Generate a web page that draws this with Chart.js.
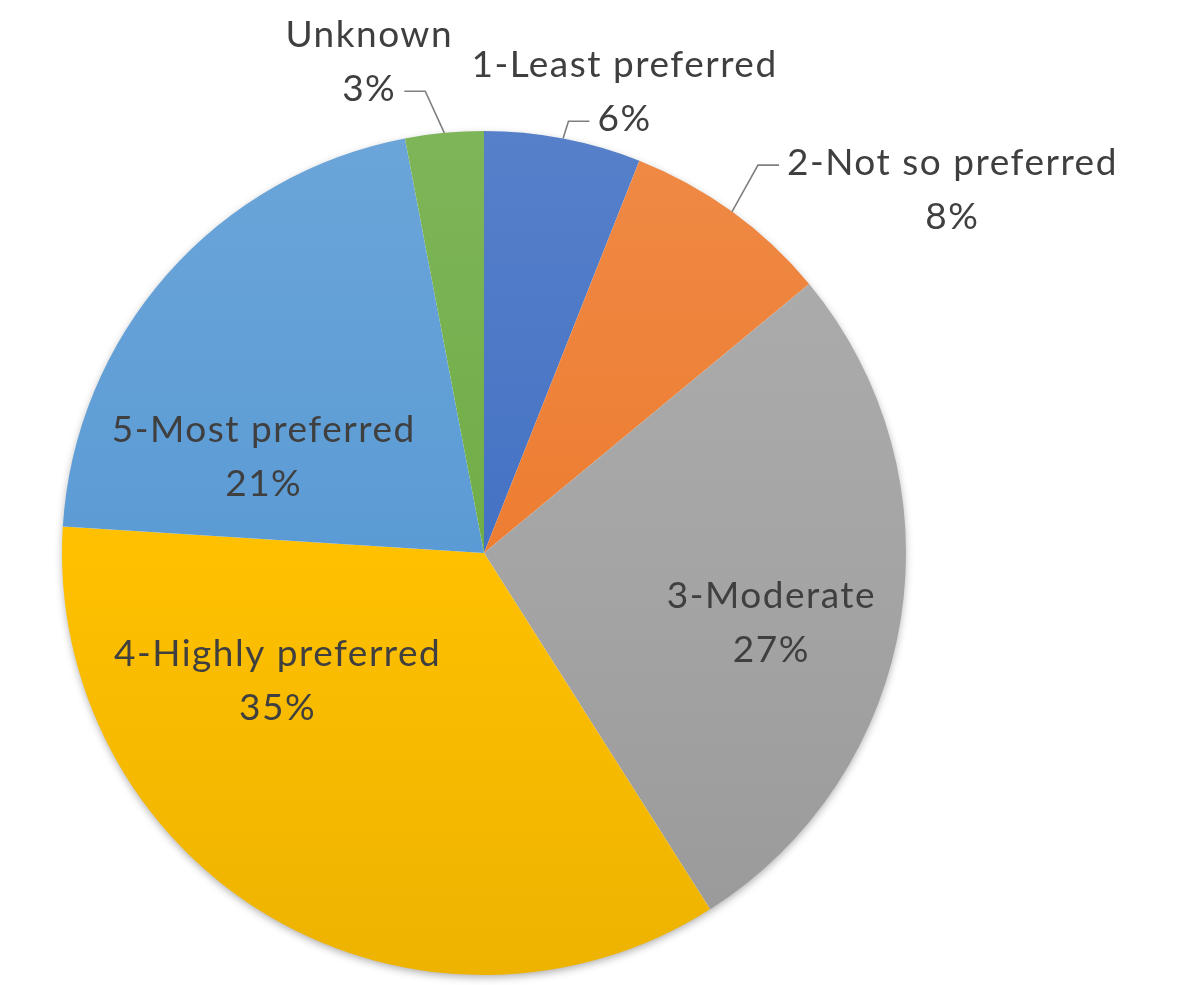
<!DOCTYPE html>
<html>
<head>
<meta charset="utf-8">
<script src="https://cdn.jsdelivr.net/npm/chart.js@4.4.1/dist/chart.umd.min.js"></script>
<style>
  html, body { margin: 0; padding: 0; background: #ffffff; }
  #wrap { width: 1189px; height: 985px; position: relative; }
</style>
</head>
<body>
<div id="wrap"><canvas id="c" width="1189" height="985"></canvas></div>
<script>
// ---- data ----
const categories = ['1-Least preferred', '2-Not so preferred', '3-Moderate', '4-Highly preferred', '5-Most preferred', 'Unknown'];
const percentages = [6, 8, 27, 35, 21, 3];

// ---- styling / layout (kept separate from data) ----
const baseColors = ['#4472C4', '#ED7D31', '#A5A5A5', '#FFC000', '#5B9BD5', '#70AD47'];
// label block centres as fractions of the radius, relative to pie centre
const labelOffsets = [[0.333, -1.092], [1.11, -0.86], [0.681, 0.165], [-0.489, 0.303], [-0.522, -0.227], [-0.272, -1.163]];
// leader lines for outside labels: which text line they attach to, and on which side
const leaders = [{ line: 1, side: 'left' }, { line: 0, side: 'left' }, null, null, null, { line: 1, side: 'right' }];
const FONT = '37px Lato, "Open Sans", sans-serif';
const LETTER_SPACING = '1.5px';
const LINE_H = 54;

function shade(hex, amt) {
  const n = parseInt(hex.slice(1), 16);
  let r = (n >> 16) & 255, g = (n >> 8) & 255, b = n & 255;
  const f = (v) => Math.max(0, Math.min(255, Math.round(amt >= 0 ? v + (255 - v) * amt : v * (1 + amt))));
  return 'rgb(' + f(r) + ',' + f(g) + ',' + f(b) + ')';
}

const shadowPlugin = {
  id: 'pieShadow',
  beforeDatasetsDraw(chart) {
    const arc = chart.getDatasetMeta(0).data[0];
    if (!arc) return;
    const ctx = chart.ctx;
    ctx.save();
    ctx.shadowColor = 'rgba(0,0,0,0.35)';
    ctx.shadowBlur = 9;
    ctx.shadowOffsetX = 0;
    ctx.shadowOffsetY = 3;
    ctx.fillStyle = '#ffffff';
    ctx.beginPath();
    ctx.arc(arc.x, arc.y, arc.outerRadius - 1, 0, Math.PI * 2);
    ctx.fill();
    ctx.restore();
  }
};

const labelPlugin = {
  id: 'pieLabels',
  afterDatasetsDraw(chart) {
    const ctx = chart.ctx;
    const arcs = chart.getDatasetMeta(0).data;
    ctx.save();
    ctx.font = FONT;
    if ('letterSpacing' in ctx) ctx.letterSpacing = LETTER_SPACING;
    ctx.fillStyle = '#3f3f3f';
    ctx.textAlign = 'center';
    ctx.textBaseline = 'middle';
    arcs.forEach((arc, i) => {
      const r = arc.outerRadius;
      const cx = arc.x + labelOffsets[i][0] * r;
      const cy = arc.y + labelOffsets[i][1] * r;
      const lines = [categories[i], percentages[i] + '%'];
      lines.forEach((t, k) => ctx.fillText(t, cx, cy + (k - 0.5) * LINE_H));
      const ld = leaders[i];
      if (ld) {
        const w = ctx.measureText(lines[ld.line]).width;
        const ly = cy + (ld.line - 0.5) * LINE_H + 2;
        const dir = ld.side === 'left' ? -1 : 1;
        const x0 = cx + dir * (w / 2 + 8);
        const x1 = x0 + dir * 21;
        const mid = (arc.startAngle + arc.endAngle) / 2;
        const px = arc.x + Math.cos(mid) * r;
        const py = arc.y + Math.sin(mid) * r;
        ctx.save();
        ctx.strokeStyle = '#7f7f7f';
        ctx.lineWidth = 1.6;
        ctx.beginPath();
        ctx.moveTo(x0, ly);
        ctx.lineTo(x1, ly);
        ctx.lineTo(px, py);
        ctx.stroke();
        ctx.restore();
      }
    });
    ctx.restore();
  }
};

new Chart(document.getElementById('c'), {
  type: 'pie',
  data: {
    labels: categories,
    datasets: [{
      data: percentages,
      borderWidth: 0,
      backgroundColor(ctx) {
        const chart = ctx.chart;
        const area = chart.chartArea;
        const base = baseColors[ctx.dataIndex];
        if (!area) return base;
        const g = chart.ctx.createLinearGradient(0, area.top, 0, area.bottom);
        g.addColorStop(0, shade(base, 0.10));
        g.addColorStop(0.5, base);
        g.addColorStop(1, shade(base, -0.07));
        return g;
      }
    }]
  },
  options: {
    responsive: false,
    animation: false,
    devicePixelRatio: 1,
    layout: { padding: { left: 0, right: 221, top: 131, bottom: 10 } },
    plugins: { legend: { display: false }, tooltip: { enabled: false } }
  },
  plugins: [shadowPlugin, labelPlugin]
});
</script>
</body>
</html>
